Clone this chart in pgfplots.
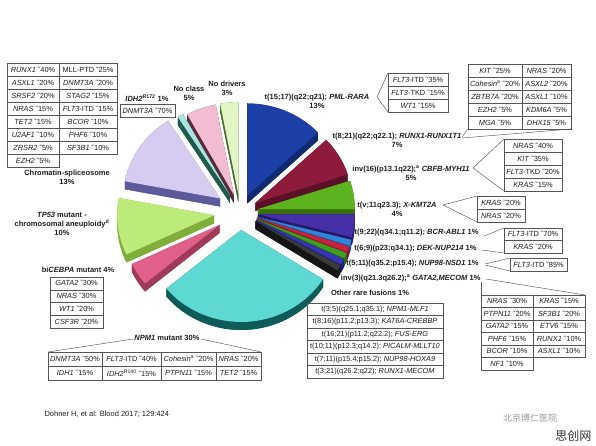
\documentclass[border=0pt]{standalone}
\usepackage{pgfplots}
\pgfplotsset{compat=1.18}
\usepackage{fontspec}
\setmainfont{Liberation Sans}
\newfontfamily\cjk{Noto Sans CJK SC}

\definecolor{cNoDrv}{HTML}{E2F5C4}\definecolor{sNoDrv}{HTML}{4A6A30}
\definecolor{cNoCls}{HTML}{F2BCD3}\definecolor{sNoCls}{HTML}{5A2A3A}
\definecolor{cPML}{HTML}{1C3FA8}\definecolor{sPML}{HTML}{0F2A70}
\definecolor{cIDH}{HTML}{A8E4E0}\definecolor{sIDH}{HTML}{1F5A4A}
\definecolor{cChr}{HTML}{D6CCF2}\definecolor{sChr}{HTML}{5C5A9A}
\definecolor{cRUN}{HTML}{8E1B3C}\definecolor{sRUN}{HTML}{5A1028}
\definecolor{cCBF}{HTML}{5DB31E}\definecolor{sCBF}{HTML}{3A7010}
\definecolor{cKMT}{HTML}{4530A8}\definecolor{sKMT}{HTML}{25186A}
\definecolor{cTP}{HTML}{BDEB7A}\definecolor{sTP}{HTML}{7FAE3A}
\definecolor{cBCR}{HTML}{2F86D8}\definecolor{sBCR}{HTML}{1A5A9A}
\definecolor{cDEK}{HTML}{C8203E}\definecolor{sDEK}{HTML}{8A1028}
\definecolor{cNSD}{HTML}{3E9E1E}\definecolor{sNSD}{HTML}{256A12}
\definecolor{cGAT}{HTML}{3535B5}\definecolor{sGAT}{HTML}{20207A}
\definecolor{cOth}{HTML}{3A3A3A}\definecolor{sOth}{HTML}{151515}
\definecolor{cCEB}{HTML}{E0608A}\definecolor{sCEB}{HTML}{A03A5A}
\definecolor{cNPM}{HTML}{5ED8D2}\definecolor{sNPM}{HTML}{0D5C5A}
\definecolor{lineg}{HTML}{555555}
\definecolor{txt}{HTML}{1E1E1E}

% #1 start angle, #2 percent, #3 top colour, #4 side colour, #5 explode (bp)
\newcommand{\slice}[5]{%
  \fill[#4] (pc) ++({#1-#2*1.8}:#5bp) ++(0,-8bp) -- ++(#1:97bp and 92bp)
     arc[start angle=#1,end angle={#1-#2*3.6},x radius=97bp,y radius=92bp] -- cycle;
  \fill[#4] (pc) ++({#1-#2*1.8}:#5bp) -- ++(#1:97bp and 92bp) -- ++(0,-8bp) -- ++({#1+180}:97bp and 92bp) -- cycle;
  \fill[#4] (pc) ++({#1-#2*1.8}:#5bp) -- ++({#1-#2*3.6}:97bp and 92bp) -- ++(0,-8bp) -- ++({#1-#2*3.6+180}:97bp and 92bp) -- cycle;
  \fill[#4] (pc) ++({#1-#2*1.8}:#5bp) ++(#1:97bp and 92bp)
     arc[start angle=#1,end angle={#1-#2*3.6},x radius=97bp,y radius=92bp] -- ++(0,-8bp)
     arc[start angle={#1-#2*3.6},end angle=#1,x radius=97bp,y radius=92bp] -- cycle;
  \fill[#3] (pc) ++({#1-#2*1.8}:#5bp) -- ++(#1:97bp and 92bp)
     arc[start angle=#1,end angle={#1-#2*3.6},x radius=97bp,y radius=92bp] -- cycle;
}
\newcommand{\tf}{\fontsize{7.4bp}{8.5bp}\selectfont}
\newcommand{\lb}{\fontsize{7.5bp}{9bp}\selectfont\bfseries}
\newcommand{\ap}{{\char"02DC\relax}}
\newcommand{\cell}[5]{%
  \draw[lineg,line width=0.5bp] (axis cs:#1,#2) rectangle (axis cs:#3,#4);
  \node[font=\tf,text=txt,inner sep=0pt] at (axis cs:{(#1+#3)/2},{(#2+#4)/2}) {#5};}
\newcommand{\con}[4]{\draw[lineg,line width=0.45bp] (axis cs:#1,#2) -- (axis cs:#3,#4);}

\begin{document}
\begin{tikzpicture}
\begin{axis}[width=596bp,height=446bp,scale only axis,
  xmin=0,xmax=596,ymin=0,ymax=446,y dir=reverse,hide axis,clip=false]
\path[fill=white] (axis cs:0,0) rectangle (axis cs:596,446);
\coordinate (pc) at (axis cs:240,212);

% ---- pie (values in percent), back to front ----
\slice{100.8}{3}{cNoDrv}{sNoDrv}{18}
\slice{118.8}{5}{cNoCls}{sNoCls}{18}
\slice{90}{13}{cPML}{sPML}{18}
\slice{122.4}{1}{cIDH}{sIDH}{20}
\slice{169.2}{13}{cChr}{sChr}{24}
\slice{43.2}{7}{cRUN}{sRUN}{18}
\slice{18}{5}{cCBF}{sCBF}{18}
\slice{0}{4}{cKMT}{sKMT}{18}
\slice{-154.8}{10}{cTP}{sTP}{26}
\slice{-14.4}{1}{cBCR}{sBCR}{18}
\slice{-18}{1}{cDEK}{sDEK}{18}
\slice{-21.6}{1}{cNSD}{sNSD}{18}
\slice{-25.2}{1}{cGAT}{sGAT}{18}
\slice{-28.8}{1}{cOth}{sOth}{18}
\slice{-140.4}{4}{cCEB}{sCEB}{24}
\slice{-32.4}{30}{cNPM}{sNPM}{18}

% ---- Chromatin-spliceosome table ----
\cell{7}{63}{59}{76}{\textit{RUNX1} \ap40\%}
\cell{59}{63}{117}{76}{MLL-PTD \ap25\%}
\cell{7}{76}{59}{89}{\textit{ASXL1} \ap20\%}
\cell{59}{76}{117}{89}{\textit{DNMT3A} \ap20\%}
\cell{7}{89}{59}{102}{\textit{SRSF2} \ap20\%}
\cell{59}{89}{117}{102}{\textit{STAG2} \ap15\%}
\cell{7}{102}{59}{115}{\textit{NRAS} \ap15\%}
\cell{59}{102}{117}{115}{\textit{FLT3}-ITD \ap15\%}
\cell{7}{115}{59}{128}{\textit{TET2} \ap15\%}
\cell{59}{115}{117}{128}{\textit{BCOR} \ap10\%}
\cell{7}{128}{59}{141}{\textit{U2AF1} \ap10\%}
\cell{59}{128}{117}{141}{\textit{PHF6} \ap10\%}
\cell{7}{141}{59}{154}{\textit{ZRSR2} \ap5\%}
\cell{59}{141}{117}{154}{\textit{SF3B1} \ap10\%}
\cell{7}{154}{59}{167}{\textit{EZH2} \ap5\%}
\node[font=\lb,text=txt,align=center] at (axis cs:67,177) {Chromatin-spliceosome\\13\%};

% ---- IDH2, No class, No drivers ----
\node[font=\lb,text=txt] at (axis cs:147,98) {\textit{IDH2}\textsuperscript{R172} 1\%};
\cell{120}{104}{175}{117}{\textit{DNMT3A} \ap70\%}
\node[font=\lb,text=txt,align=center] at (axis cs:189,93) {No class\\5\%};
\node[font=\lb,text=txt,align=center] at (axis cs:227,88) {No drivers\\3\%};

% ---- PML-RARA ----
\node[font=\lb,text=txt,align=center] at (axis cs:317,101) {t(15;17)(q22;q21); \textit{PML-RARA}\\13\%};
\con{377}{97}{388}{73}\con{377}{97}{388}{112}
\cell{388}{73}{448}{86}{\textit{FLT3}-ITD \ap35\%}
\cell{388}{86}{448}{99}{\textit{FLT3}-TKD \ap15\%}
\cell{388}{99}{448}{112}{\textit{WT1} \ap15\%}

% ---- RUNX1-RUNX1T1 ----
\node[font=\lb,text=txt,align=center] at (axis cs:397,140) {t(8;21)(q22;q22.1); \textit{RUNX1-RUNX1T1}\\7\%};
\con{462}{137}{468}{129}\con{462}{138}{571}{129}
\cell{468}{64}{522}{77}{\textit{KIT} \ap25\%}
\cell{522}{64}{571}{77}{\textit{NRAS} \ap20\%}
\cell{468}{77}{522}{90}{\textit{Cohesin}\textsuperscript{a} \ap20\%}
\cell{522}{77}{571}{90}{\textit{ASXL2} \ap20\%}
\cell{468}{90}{522}{103}{\textit{ZBTB7A} \ap20\%}
\cell{522}{90}{571}{103}{\textit{ASXL1} \ap10\%}
\cell{468}{103}{522}{116}{\textit{EZH2} \ap5\%}
\cell{522}{103}{571}{116}{\textit{KDM6A} \ap5\%}
\cell{468}{116}{522}{129}{\textit{MGA} \ap5\%}
\cell{522}{116}{571}{129}{\textit{DHX15} \ap5\%}

% ---- CBFB-MYH11 ----
\node[font=\lb,text=txt,align=center] at (axis cs:411,173) {inv(16)(p13.1q22);\textsuperscript{a} \textit{CBFB-MYH11}\\5\%};
\con{473}{168}{504}{139}\con{473}{168}{504}{191}
\cell{504}{139}{562}{152}{\textit{NRAS} \ap40\%}
\cell{504}{152}{562}{165}{\textit{KIT} \ap35\%}
\cell{504}{165}{562}{178}{\textit{FLT3}-TKD \ap20\%}
\cell{504}{178}{562}{191}{\textit{KRAS} \ap15\%}

% ---- X-KMT2A ----
\node[font=\lb,text=txt,align=center] at (axis cs:397,209) {t(v;11q23.3); \textit{X-KMT2A}\\4\%};
\con{443}{205}{477}{196}\con{443}{205}{477}{222}
\cell{477}{196}{525}{209}{\textit{KRAS} \ap20\%}
\cell{477}{209}{525}{222}{\textit{NRAS} \ap20\%}

% ---- 1% fusions ----
\node[font=\lb,text=txt,anchor=east] at (axis cs:482,233) {t(9;22)(q34.1;q11.2); \textit{BCR-ABL1} 1\%};
\node[font=\lb,text=txt,anchor=east] at (axis cs:480,249) {t(6;9)(p23;q34.1); \textit{DEK-NUP214} 1\%};
\node[font=\lb,text=txt,anchor=east] at (axis cs:482,264) {t(5;11)(q35.2;p15.4); \textit{NUP98-NSD1} 1\%};
\node[font=\lb,text=txt,anchor=east] at (axis cs:484,278) {inv(3)(q21.3q26.2);\textsuperscript{a} \textit{GATA2,MECOM} 1\%};
\con{484}{236}{504}{228}\con{482}{250}{504}{253}
\cell{504}{228}{562}{240.5}{\textit{FLT3}-ITD \ap70\%}
\cell{504}{240.5}{562}{253}{\textit{KRAS} \ap20\%}
\con{485}{264}{510}{258}\con{485}{265}{510}{271}
\cell{510}{258}{567}{271}{\textit{FLT3}-ITD \ap85\%}
\con{486}{279}{585}{295}\con{481}{282}{481}{295}
\cell{481}{295}{533}{307.5}{\textit{NRAS} \ap30\%}
\cell{533}{295}{585}{307.5}{\textit{KRAS} \ap15\%}
\cell{481}{307.5}{533}{320}{\textit{PTPN11} \ap20\%}
\cell{533}{307.5}{585}{320}{\textit{SF3B1} \ap20\%}
\cell{481}{320}{533}{332.5}{\textit{GATA2} \ap15\%}
\cell{533}{320}{585}{332.5}{\textit{ETV6} \ap15\%}
\cell{481}{332.5}{533}{345}{\textit{PHF6} \ap15\%}
\cell{533}{332.5}{585}{345}{\textit{RUNX1} \ap10\%}
\cell{481}{345}{533}{357.5}{\textit{BCOR} \ap10\%}
\cell{533}{345}{585}{357.5}{\textit{ASXL1} \ap10\%}
\cell{481}{357.5}{533}{370}{\textit{NF1} \ap10\%}

% ---- Other rare fusions ----
\node[font=\lb,text=txt] at (axis cs:370,293) {Other rare fusions 1\%};
\cell{307}{303}{443}{315.5}{t(3;5)(q25.1;q35.1); \textit{NPM1-MLF1}}
\cell{307}{315.5}{443}{328}{t(8;16)(p11.2;p13.3); \textit{KAT6A-CREBBP}}
\cell{307}{328}{443}{340.5}{t(16;21)(p11.2;q22.2); \textit{FUS-ERG}}
\cell{307}{340.5}{443}{353}{t(10;11)(p12.3;q14.2); \textit{PICALM-MLLT10}}
\cell{307}{353}{443}{365.5}{t(7;11)(p15.4;p15.2); \textit{NUP98-HOXA9}}
\cell{307}{365.5}{443}{378}{t(3;21)(q26.2;q22); \textit{RUNX1-MECOM}}

% ---- TP53, biCEBPA ----
\node[font=\lb,text=txt,align=center] at (axis cs:62,224) {\textit{TP53} mutant -\\chromosomal aneuploidy\textsuperscript{d}\\10\%};
\node[font=\lb,text=txt] at (axis cs:78,270) {bi\textit{CEBPA} mutant 4\%};
\cell{50}{277}{103}{289.75}{\textit{GATA2} \ap30\%}
\cell{50}{289.75}{103}{302.5}{\textit{NRAS} \ap30\%}
\cell{50}{302.5}{103}{315.25}{\textit{WT1} \ap20\%}
\cell{50}{315.25}{103}{328}{\textit{CSF3R} \ap20\%}

% ---- NPM1 ----
\node[font=\lb,text=txt] at (axis cs:167,338) {\textit{NPM1} mutant 30\%};
\con{133}{339}{48}{352}\con{201}{339}{261}{352}
\cell{48}{352}{102}{366}{\textit{DNMT3A} \ap50\%}
\cell{102}{352}{161}{366}{\textit{FLT3}-ITD \ap40\%}
\cell{161}{352}{216}{366}{\textit{Cohesin}\textsuperscript{a} \ap20\%}
\cell{216}{352}{261}{366}{\textit{NRAS} \ap20\%}
\cell{48}{366}{102}{380}{\textit{IDH1} \ap15\%}
\cell{102}{366}{161}{380}{\textit{IDH2}\textsuperscript{R140} \ap15\%}
\cell{161}{366}{216}{380}{\textit{PTPN11} \ap15\%}
\cell{216}{366}{261}{380}{\textit{TET2} \ap15\%}

% ---- source and marks ----
\node[font=\fontsize{7.5bp}{9bp}\selectfont,text=txt,anchor=west] at (axis cs:41,414) {Dohner H, et al: Blood 2017; 129:424};
\node[font=\cjk\fontsize{9bp}{10bp}\selectfont,text=gray!80] at (axis cs:530,418) {北京博仁医院};
\node[font=\cjk\fontsize{12bp}{13bp}\selectfont,text=black!80,anchor=east] at (axis cs:595,436) {思创网};
\end{axis}
\end{tikzpicture}
\end{document}
